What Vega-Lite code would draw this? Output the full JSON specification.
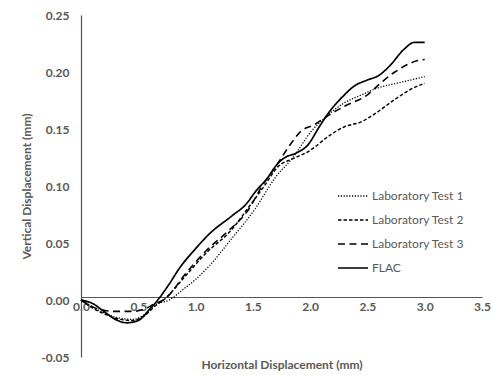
{
  "$schema": "https://vega.github.io/schema/vega-lite/v6.json",
  "width": 401,
  "height": 342,
  "autosize": {"type": "none"},
  "padding": {"left": 81, "top": 15, "right": 11, "bottom": 18},
  "background": "white",
  "config": {
    "view": {"stroke": null},
    "font": "Lato"
  },
  "data": {
    "values": [
      {"series": "FLAC", "x": 0, "y": 0},
      {"series": "FLAC", "x": 0.1, "y": -0.003},
      {"series": "FLAC", "x": 0.2, "y": -0.010},
      {"series": "FLAC", "x": 0.3, "y": -0.017},
      {"series": "FLAC", "x": 0.4, "y": -0.020},
      {"series": "FLAC", "x": 0.5, "y": -0.018},
      {"series": "FLAC", "x": 0.6, "y": -0.008},
      {"series": "FLAC", "x": 0.67, "y": 0.0},
      {"series": "FLAC", "x": 0.77, "y": 0.014},
      {"series": "FLAC", "x": 0.86, "y": 0.028},
      {"series": "FLAC", "x": 1.0, "y": 0.045},
      {"series": "FLAC", "x": 1.12, "y": 0.058},
      {"series": "FLAC", "x": 1.32, "y": 0.074},
      {"series": "FLAC", "x": 1.44, "y": 0.084},
      {"series": "FLAC", "x": 1.53, "y": 0.096},
      {"series": "FLAC", "x": 1.62, "y": 0.106},
      {"series": "FLAC", "x": 1.72, "y": 0.120},
      {"series": "FLAC", "x": 1.78, "y": 0.125},
      {"series": "FLAC", "x": 1.88, "y": 0.129},
      {"series": "FLAC", "x": 1.98, "y": 0.136},
      {"series": "FLAC", "x": 2.08, "y": 0.152},
      {"series": "FLAC", "x": 2.16, "y": 0.164},
      {"series": "FLAC", "x": 2.28, "y": 0.178},
      {"series": "FLAC", "x": 2.39, "y": 0.188},
      {"series": "FLAC", "x": 2.5, "y": 0.193},
      {"series": "FLAC", "x": 2.6, "y": 0.197},
      {"series": "FLAC", "x": 2.7, "y": 0.206},
      {"series": "FLAC", "x": 2.82, "y": 0.220},
      {"series": "FLAC", "x": 2.91, "y": 0.226},
      {"series": "FLAC", "x": 3.0, "y": 0.226},

      {"series": "Laboratory Test 1", "x": 0, "y": 0},
      {"series": "Laboratory Test 1", "x": 0.1, "y": -0.006},
      {"series": "Laboratory Test 1", "x": 0.2, "y": -0.011},
      {"series": "Laboratory Test 1", "x": 0.3, "y": -0.015},
      {"series": "Laboratory Test 1", "x": 0.45, "y": -0.017},
      {"series": "Laboratory Test 1", "x": 0.55, "y": -0.013},
      {"series": "Laboratory Test 1", "x": 0.65, "y": -0.004},
      {"series": "Laboratory Test 1", "x": 0.77, "y": 0.0},
      {"series": "Laboratory Test 1", "x": 0.9, "y": 0.010},
      {"series": "Laboratory Test 1", "x": 1.0, "y": 0.018},
      {"series": "Laboratory Test 1", "x": 1.12, "y": 0.030},
      {"series": "Laboratory Test 1", "x": 1.3, "y": 0.052},
      {"series": "Laboratory Test 1", "x": 1.52, "y": 0.080},
      {"series": "Laboratory Test 1", "x": 1.7, "y": 0.108},
      {"series": "Laboratory Test 1", "x": 1.85, "y": 0.125},
      {"series": "Laboratory Test 1", "x": 2.01, "y": 0.148},
      {"series": "Laboratory Test 1", "x": 2.13, "y": 0.160},
      {"series": "Laboratory Test 1", "x": 2.3, "y": 0.173},
      {"series": "Laboratory Test 1", "x": 2.45, "y": 0.180},
      {"series": "Laboratory Test 1", "x": 2.59, "y": 0.186},
      {"series": "Laboratory Test 1", "x": 2.75, "y": 0.190},
      {"series": "Laboratory Test 1", "x": 2.96, "y": 0.195},
      {"series": "Laboratory Test 1", "x": 3.0, "y": 0.196},

      {"series": "Laboratory Test 2", "x": 0, "y": 0},
      {"series": "Laboratory Test 2", "x": 0.1, "y": -0.007},
      {"series": "Laboratory Test 2", "x": 0.2, "y": -0.012},
      {"series": "Laboratory Test 2", "x": 0.3, "y": -0.016},
      {"series": "Laboratory Test 2", "x": 0.45, "y": -0.018},
      {"series": "Laboratory Test 2", "x": 0.55, "y": -0.014},
      {"series": "Laboratory Test 2", "x": 0.65, "y": -0.005},
      {"series": "Laboratory Test 2", "x": 0.72, "y": 0.0},
      {"series": "Laboratory Test 2", "x": 0.92, "y": 0.022},
      {"series": "Laboratory Test 2", "x": 1.1, "y": 0.042},
      {"series": "Laboratory Test 2", "x": 1.3, "y": 0.060},
      {"series": "Laboratory Test 2", "x": 1.49, "y": 0.085},
      {"series": "Laboratory Test 2", "x": 1.6, "y": 0.100},
      {"series": "Laboratory Test 2", "x": 1.72, "y": 0.117},
      {"series": "Laboratory Test 2", "x": 1.85, "y": 0.124},
      {"series": "Laboratory Test 2", "x": 1.98, "y": 0.130},
      {"series": "Laboratory Test 2", "x": 2.18, "y": 0.145},
      {"series": "Laboratory Test 2", "x": 2.3, "y": 0.152},
      {"series": "Laboratory Test 2", "x": 2.44, "y": 0.156},
      {"series": "Laboratory Test 2", "x": 2.56, "y": 0.163},
      {"series": "Laboratory Test 2", "x": 2.74, "y": 0.176},
      {"series": "Laboratory Test 2", "x": 2.9, "y": 0.186},
      {"series": "Laboratory Test 2", "x": 3.0, "y": 0.190},

      {"series": "Laboratory Test 3", "x": 0, "y": 0},
      {"series": "Laboratory Test 3", "x": 0.1, "y": -0.006},
      {"series": "Laboratory Test 3", "x": 0.2, "y": -0.009},
      {"series": "Laboratory Test 3", "x": 0.3, "y": -0.010},
      {"series": "Laboratory Test 3", "x": 0.45, "y": -0.010},
      {"series": "Laboratory Test 3", "x": 0.55, "y": -0.008},
      {"series": "Laboratory Test 3", "x": 0.65, "y": -0.003},
      {"series": "Laboratory Test 3", "x": 0.72, "y": 0.0},
      {"series": "Laboratory Test 3", "x": 0.92, "y": 0.024},
      {"series": "Laboratory Test 3", "x": 1.09, "y": 0.043},
      {"series": "Laboratory Test 3", "x": 1.29, "y": 0.061},
      {"series": "Laboratory Test 3", "x": 1.46, "y": 0.079},
      {"series": "Laboratory Test 3", "x": 1.58, "y": 0.100},
      {"series": "Laboratory Test 3", "x": 1.7, "y": 0.117},
      {"series": "Laboratory Test 3", "x": 1.81, "y": 0.134},
      {"series": "Laboratory Test 3", "x": 1.92, "y": 0.148},
      {"series": "Laboratory Test 3", "x": 2.04, "y": 0.154},
      {"series": "Laboratory Test 3", "x": 2.16, "y": 0.162},
      {"series": "Laboratory Test 3", "x": 2.3, "y": 0.170},
      {"series": "Laboratory Test 3", "x": 2.5, "y": 0.180},
      {"series": "Laboratory Test 3", "x": 2.59, "y": 0.188},
      {"series": "Laboratory Test 3", "x": 2.74, "y": 0.200},
      {"series": "Laboratory Test 3", "x": 2.94, "y": 0.210},
      {"series": "Laboratory Test 3", "x": 3.0, "y": 0.211}
    ]
  },
  "mark": {"type": "line", "interpolate": "monotone", "color": "black"},
  "encoding": {
    "x": {
      "field": "x",
      "type": "quantitative",
      "scale": {"domain": [0, 3.5], "nice": false, "zero": false},
      "axis": {
        "values": [0, 0.5, 1, 1.5, 2, 2.5, 3, 3.5],
        "format": ".1f",
        "offset": -60,
        "grid": false,
        "ticks": false,
        "domainColor": "#555555",
        "domainWidth": 1.2,
        "labelFont": "Lato",
        "labelFontWeight": "bold",
        "labelFontSize": 12,
        "labelColor": "#595959",
        "labelPadding": 4,
        "labelFlush": false,
        "title": "Horizontal Displacement (mm)",
        "titleFont": "Lato",
        "titleFontWeight": "bold",
        "titleFontSize": 12,
        "titleColor": "#595959",
        "titleBaseline": "middle",
        "titleY": 67
      }
    },
    "y": {
      "field": "y",
      "type": "quantitative",
      "scale": {"domain": [-0.05, 0.25], "nice": false, "zero": false},
      "axis": {
        "values": [-0.05, 0, 0.05, 0.1, 0.15, 0.2, 0.25],
        "labelExpr": "datum.value < 0 ? '-' + format(-datum.value, '.2f') : format(datum.value, '.2f')",
        "grid": false,
        "ticks": false,
        "domainColor": "#555555",
        "domainWidth": 1.2,
        "labelFont": "Lato",
        "labelFontWeight": "bold",
        "labelFontSize": 12,
        "labelColor": "#595959",
        "labelPadding": 12,
        "title": "Vertical Displacement (mm)",
        "titleFont": "Lato",
        "titleFontWeight": "bold",
        "titleFontSize": 12,
        "titleColor": "#595959",
        "titlePadding": 7
      }
    },
    "strokeDash": {
      "field": "series",
      "type": "nominal",
      "scale": {
        "domain": ["Laboratory Test 1", "Laboratory Test 2", "Laboratory Test 3", "FLAC"],
        "range": [[1.2, 1.6], [3.5, 2], [7, 4.5], [1, 0]]
      },
      "legend": {
        "title": null,
        "orient": "none",
        "legendX": 256,
        "legendY": 165,
        "symbolType": "stroke",
        "symbolSize": 900,
        "symbolStrokeColor": "black",
        "labelFont": "Lato",
        "labelFontSize": 12,
        "labelColor": "#595959",
        "labelOffset": 3,
        "rowPadding": 2
      }
    },
    "strokeWidth": {
      "field": "series",
      "type": "nominal",
      "scale": {
        "domain": ["Laboratory Test 1", "Laboratory Test 2", "Laboratory Test 3", "FLAC"],
        "range": [1.3, 1.7, 1.7, 2.4]
      },
      "legend": null
    }
  }
}
